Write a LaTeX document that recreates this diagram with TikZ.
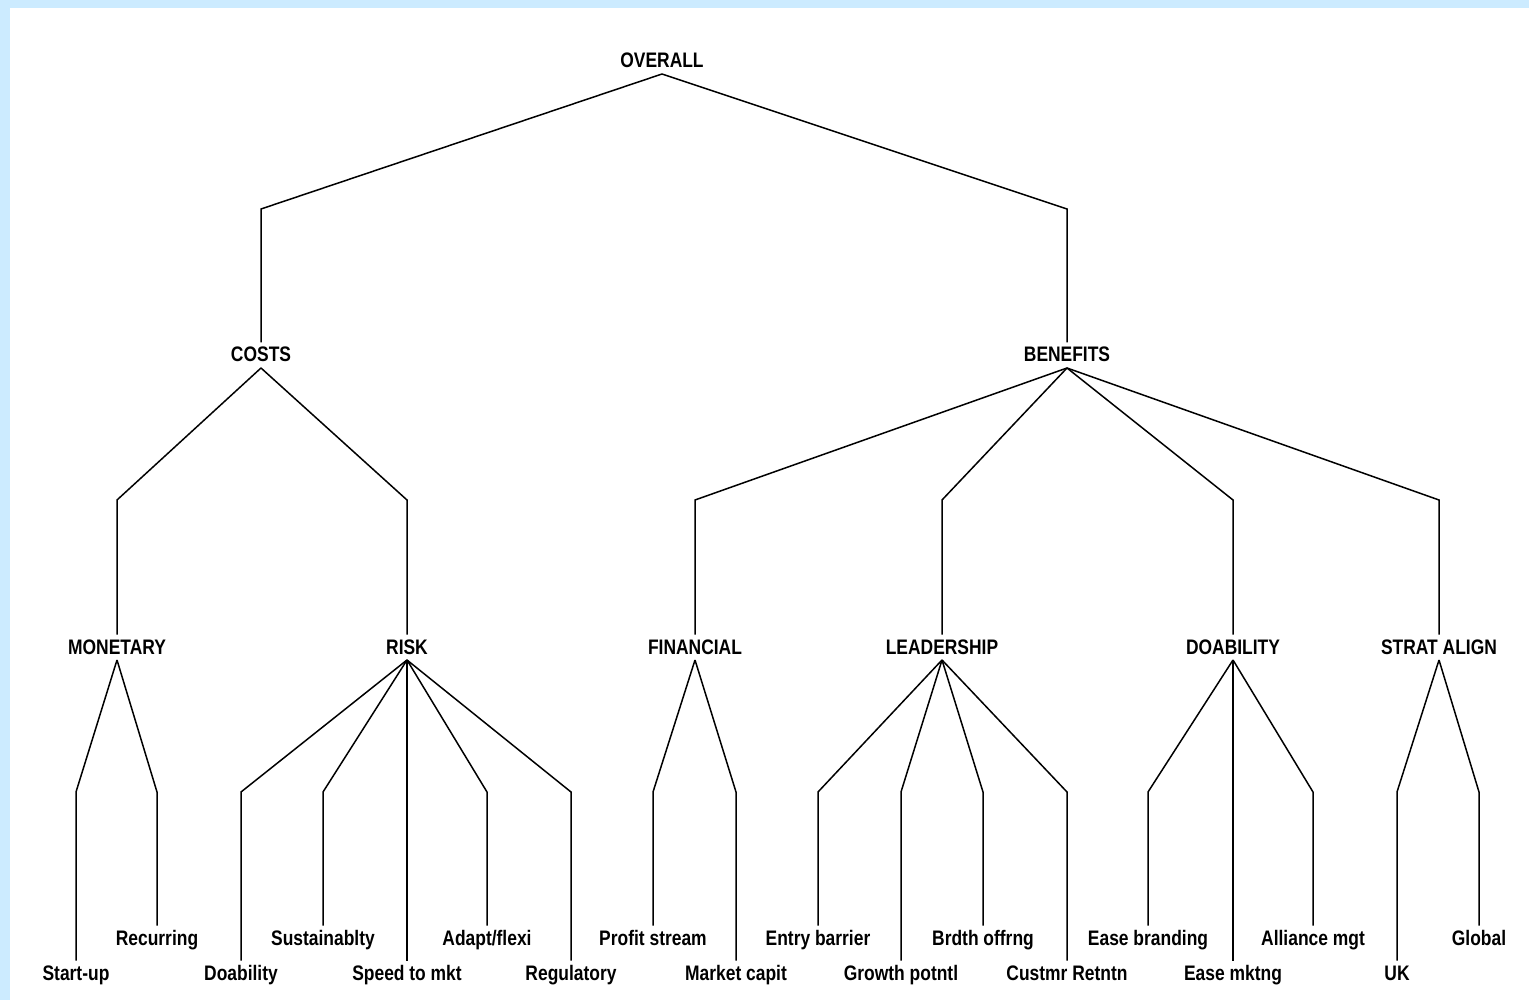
\documentclass[tikz,border=0pt]{standalone}
\usepackage{fontspec}
\setmainfont{Liberation Sans}[FakeStretch=0.83]
\definecolor{frameblue}{HTML}{CCEBFF}
\begin{document}
\begin{tikzpicture}[x=1pt,y=-1pt,
  lbl/.style={anchor=base,inner sep=0pt,font=\fontsize{21}{25}\selectfont\bfseries},
  link/.style={draw=black,line width=1.5pt,line join=miter}]
% page frame
\useasboundingbox (0,0) rectangle (1529,1000);
\fill[frameblue] (0,0) rectangle (1529,1000);
\fill[white] (10,8) rectangle (1529,1000);

% draws parent -> bend at height #3 -> child
\newcommand\treelink[3]{\draw[link] ([yshift=-6pt]#1.base) -- (#2.base |- 0,#3) -- ([yshift=19.5pt]#2.base);}

% level 0 and 1
\node[lbl] (overall) at (662,68) {OVERALL};
\node[lbl] (costs) at (261,362) {COSTS};
\node[lbl] (benefits) at (1067,362) {BENEFITS};

% level 2
\node[lbl] (monetary) at (117,654) {MONETARY};
\node[lbl] (risk) at (407,654) {RISK};
\node[lbl] (financial) at (695,654) {FINANCIAL};
\node[lbl] (leadership) at (942,654) {LEADERSHIP};
\node[lbl] (doability) at (1233,654) {DOABILITY};
\node[lbl] (stratalign) at (1439,654) {STRAT ALIGN};

% leaves, upper row
\node[lbl] (recurring) at (157,945) {Recurring};
\node[lbl] (sustain) at (323,945) {Sustainablty};
\node[lbl] (adapt) at (487,945) {Adapt/flexi};
\node[lbl] (profit) at (653,945) {Profit stream};
\node[lbl] (entry) at (818,945) {Entry barrier};
\node[lbl] (brdth) at (983,945) {Brdth offrng};
\node[lbl] (easebrand) at (1148,945) {Ease branding};
\node[lbl] (alliance) at (1313,945) {Alliance mgt};
\node[lbl] (global) at (1479,945) {Global};

% leaves, lower row
\node[lbl] (startup) at (76,980) {Start-up};
\node[lbl] (doab) at (241,980) {Doability};
\node[lbl] (speed) at (407,980) {Speed to mkt};
\node[lbl] (regul) at (571,980) {Regulatory};
\node[lbl] (market) at (736,980) {Market capit};
\node[lbl] (growth) at (901,980) {Growth potntl};
\node[lbl] (custmr) at (1067,980) {Custmr Retntn};
\node[lbl] (easemkt) at (1233,980) {Ease mktng};
\node[lbl] (uk) at (1397,980) {UK};

% connectors
\treelink{overall}{costs}{209}
\treelink{overall}{benefits}{209}

\treelink{costs}{monetary}{500}
\treelink{costs}{risk}{500}
\treelink{benefits}{financial}{500}
\treelink{benefits}{leadership}{500}
\treelink{benefits}{doability}{500}
\treelink{benefits}{stratalign}{500}

\treelink{monetary}{startup}{792}
\treelink{monetary}{recurring}{792}
\treelink{risk}{doab}{792}
\treelink{risk}{sustain}{792}
\treelink{risk}{speed}{792}
\treelink{risk}{adapt}{792}
\treelink{risk}{regul}{792}
\treelink{financial}{profit}{792}
\treelink{financial}{market}{792}
\treelink{leadership}{entry}{792}
\treelink{leadership}{growth}{792}
\treelink{leadership}{brdth}{792}
\treelink{leadership}{custmr}{792}
\treelink{doability}{easebrand}{792}
\treelink{doability}{easemkt}{792}
\treelink{doability}{alliance}{792}
\treelink{stratalign}{uk}{792}
\treelink{stratalign}{global}{792}
\end{tikzpicture}
\end{document}
